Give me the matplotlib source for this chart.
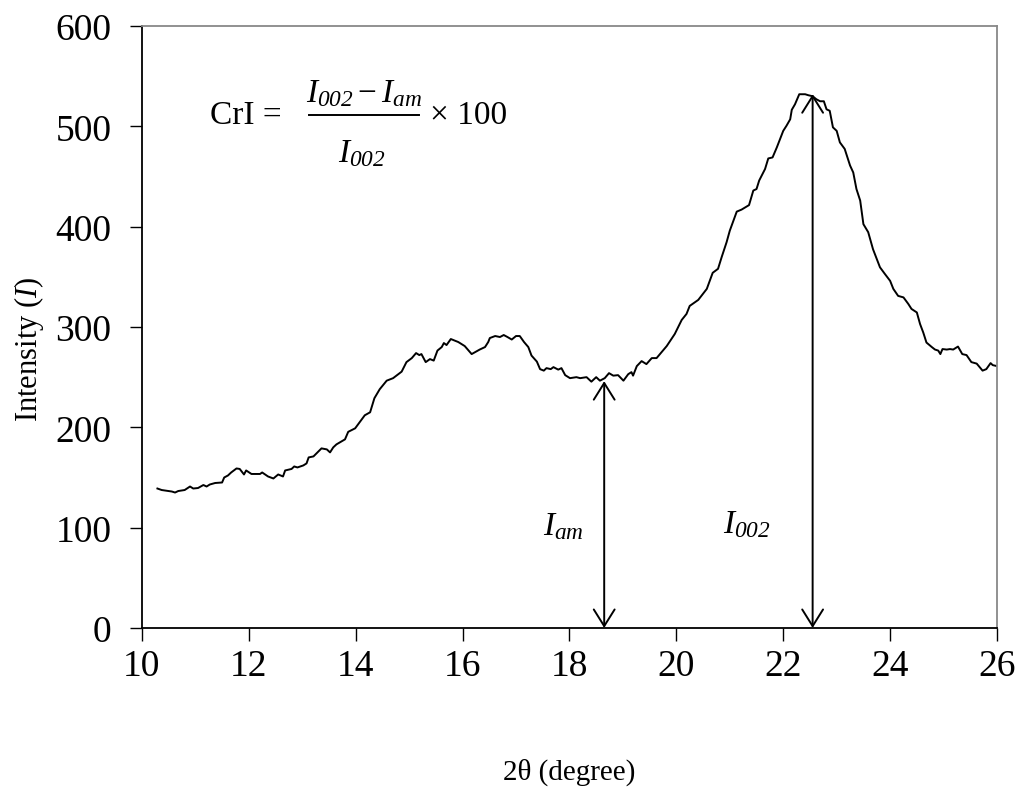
import matplotlib.pyplot as plt

plt.rcParams['font.family'] = ['Liberation Serif', 'DejaVu Serif']
plt.rcParams['mathtext.fontset'] = 'custom'
plt.rcParams['mathtext.rm'] = 'Liberation Serif'
plt.rcParams['mathtext.it'] = 'Liberation Serif:italic'
# slot sf détourné pour avoir des chiffres en italique dans les indices
plt.rcParams['mathtext.sf'] = 'Liberation Serif:italic'

# Diffractogramme (2theta en degrés, intensité)
two_theta = [10.29, 10.37, 10.56, 10.62, 10.68, 10.80, 10.90, 10.96, 11.05, 11.15,
             11.21, 11.27, 11.37, 11.50, 11.54, 11.61, 11.67, 11.77, 11.83, 11.91,
             11.95, 12.05, 12.21, 12.25, 12.36, 12.46, 12.55, 12.64, 12.68, 12.80,
             12.85, 12.91, 13.02, 13.08, 13.12, 13.21, 13.36, 13.46, 13.52, 13.58,
             13.64, 13.80, 13.86, 13.99, 14.08, 14.17, 14.27, 14.35, 14.45, 14.58,
             14.70, 14.86, 14.95, 15.05, 15.13, 15.19, 15.23, 15.31, 15.39, 15.46,
             15.53, 15.61, 15.65, 15.70, 15.78, 15.92, 16.04, 16.17, 16.32, 16.42,
             16.48, 16.51, 16.61, 16.70, 16.77, 16.84, 16.92, 17.00, 17.07, 17.15,
             17.23, 17.29, 17.39, 17.45, 17.52, 17.57, 17.65, 17.70, 17.79, 17.85,
             17.92, 18.01, 18.13, 18.20, 18.32, 18.41, 18.50, 18.57, 18.66, 18.74,
             18.82, 18.91, 19.01, 19.10, 19.16, 19.19, 19.26, 19.35, 19.44, 19.54,
             19.63, 19.82, 19.97, 20.10, 20.19, 20.25, 20.41, 20.57, 20.68, 20.78,
             20.85, 20.94, 21.00, 21.13, 21.22, 21.36, 21.44, 21.50, 21.55, 21.66,
             21.72, 21.80, 21.88, 22.00, 22.06, 22.13, 22.16, 22.22, 22.30, 22.41,
             22.47, 22.55, 22.62, 22.69, 22.76, 22.81, 22.87, 22.93, 23.00, 23.06,
             23.15, 23.25, 23.31, 23.37, 23.44, 23.50, 23.59, 23.68, 23.81, 23.90,
             24.00, 24.06, 24.15, 24.25, 24.34, 24.40, 24.50, 24.56, 24.62, 24.68,
             24.78, 24.84, 24.90, 24.94, 24.98, 25.06, 25.12, 25.18, 25.27, 25.35,
             25.43, 25.52, 25.62, 25.73, 25.80, 25.88, 25.92, 26.00]
intensity = [139, 137.5, 136, 135, 136.5, 137.5, 141, 139, 139.5, 142.5,
             141, 143, 144.5, 145, 150, 152, 155, 159, 158.5, 153,
             157, 153.5, 153.5, 155, 151, 149, 153, 151, 157, 158.5,
             161, 160, 162, 164, 170, 171, 179, 178, 175, 180,
             183, 188, 195.5, 199, 205.5, 212, 215, 229, 238, 246.5,
             249, 255.5, 265, 269, 274, 272, 273, 265, 268, 266.5,
             276.5, 280, 284, 282, 288, 285, 281, 273, 277.5, 280,
             285, 289, 291, 290, 292, 290, 287.5, 291, 291, 285,
             280, 271.5, 265.5, 258, 256.5, 259, 258, 260, 257.5, 259,
             252, 249, 250, 249, 250, 245.5, 250, 246.5, 249, 254,
             251.5, 252, 246.5, 253, 255, 251.5, 261, 266, 263, 269,
             269, 281, 293, 307, 313, 321, 327, 338, 354, 358,
             370, 384.5, 396, 415, 417, 421.5, 436, 437.5, 446, 457.5,
             468, 469, 479, 495.5, 500.5, 507, 516.5, 522, 532, 532,
             531, 530, 527, 525, 525, 517, 515.5, 499, 495.5, 484,
             477.5, 461, 454, 437.5, 426, 402.5, 394.5, 377.5, 359.5, 353,
             346, 338, 331, 329.5, 323, 318, 314.5, 303, 294.5, 284.5,
             280, 277.5, 276.5, 273, 278, 277.5, 278, 277.5, 280.5, 273,
             272, 265, 263.5, 256.5, 258, 264, 262, 261]

# positions des flèches (I_am et I_002)
x_am, y_am = 18.65, 246
x_002, y_002 = 22.55, 532

I_am = r'\mathit{I}_{\mathsf{am}}'
I_002 = r'\mathit{I}_{\mathsf{002}}'

fig = plt.figure(figsize=(10.21, 8.04), dpi=100)
ax = fig.add_axes([0.139, 0.2177, 0.8375, 0.7487])

ax.plot(two_theta, intensity, color='black', linewidth=1.4)

arrow_style = dict(arrowstyle='<->,head_length=0.4,head_width=0.25', color='black', lw=1.4,
                   mutation_scale=30, shrinkA=0, shrinkB=0)
ax.annotate('', xy=(x_am, y_am), xytext=(x_am, 0), arrowprops=arrow_style)
ax.annotate('', xy=(x_002, y_002), xytext=(x_002, 0), arrowprops=arrow_style)

ax.text(17.88, 102, '$' + I_am + '$', fontsize=24, ha='center', va='center')
ax.text(21.32, 104, '$' + I_002 + '$', fontsize=24, ha='center', va='center')

# formule de l'indice de cristallinité
ax.text(11.27, 512, 'CrI =', fontsize=24, ha='left', va='center')
ax.text(14.15, 533, '$' + I_002 + ' - ' + I_am + '$', fontsize=24,
        ha='center', va='center')
ax.plot([13.13, 15.18], [511.5, 511.5], color='black', linewidth=1.4)
ax.text(14.12, 474, '$' + I_002 + '$', fontsize=24, ha='center', va='center')
ax.text(15.39, 512, '× 100', fontsize=24, ha='left', va='center')

ax.set_xlim(10, 26)
ax.set_ylim(0, 600)
ax.set_xticks(range(10, 27, 2))
ax.set_yticks(range(0, 601, 100))
ax.tick_params(axis='both', direction='out', length=9, width=1.0, labelsize=27)
ax.tick_params(axis='x', pad=6)
ax.tick_params(axis='y', pad=13)
for side in ['left', 'bottom']:
    ax.spines[side].set_color('black')
    ax.spines[side].set_linewidth(1.3)
for side in ['top', 'right']:
    ax.spines[side].set_color('#888888')
    ax.spines[side].set_linewidth(1.3)

ax.set_xlabel('2θ (degree)', fontsize=21)
ax.xaxis.set_label_coords(0.5, -0.215)
ax.set_ylabel(r'Intensity ($\mathit{I}$)', fontsize=22)
ax.yaxis.set_label_coords(-0.112, 0.465)

plt.savefig('out.png', dpi=100)
